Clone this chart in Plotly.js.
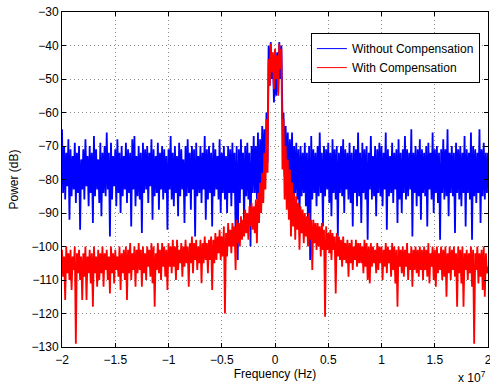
<!DOCTYPE html>
<html>
<head>
<meta charset="utf-8">
<script src="https://cdn.plot.ly/plotly-3.0.1.min.js"></script>
<style>html,body{margin:0;padding:0;background:#fff;}#chart{width:490px;height:385px;}</style>
</head>
<body>
<div id="chart"></div>
<script>
// Frequency bins: start and spacing (Hz)
const fStart = -2e7;
const fStep = 1e5;

// Power (dB) without compensation
const powerWithout = [
-65,-84,-70,-86,-72,-82,-68,-92,-71,-85,-73,-83,-69,-87,-72,-84,-70,-95,-74,-83,
-71,-86,-68,-82,-73,-88,-70,-84,-72,-93,-67,-85,-71,-83,-74,-87,-69,-91,-72,-84,
-70,-85,-66,-83,-72,-97,-69,-86,-73,-82,-71,-88,-68,-84,-72,-90,-70,-85,-73,-83,
-69,-87,-71,-84,-72,-94,-68,-83,-67,-88,-73,-85,-70,-86,-72,-96,-69,-84,-71,-83,
-70,-87,-72,-82,-68,-92,-71,-85,-73,-84,-69,-89,-72,-83,-70,-86,-71,-84,-73,-95,
-71,-83,-67,-86,-72,-88,-70,-84,-73,-91,-69,-85,-71,-83,-74,-93,-70,-85,-68,-84,
-72,-89,-70,-83,-71,-97,-69,-85,-73,-84,-70,-87,-72,-83,-67,-92,-71,-86,-70,-84,
-72,-94,-69,-85,-71,-83,-73,-86,-68,-90,-72,-84,-70,-86,-73,-90,-70,-84,-71,-88,
-69,-84,-72,-96,-70,-104,-71,-87,-68,-83,-72,-93,-70,-85,-69,-86,-72,-100,-70,-84,
-67,-84,-70,-86,-66,-88,-68,-82,-64,-80,-65,-78,-60,-75,-40,-52,-39,-50,-43,-57,
-44,-55,-42,-54,-39,-50,-40,-62,-60,-79,-64,-81,-66,-85,-68,-83,-66,-89,-70,-84,
-69,-86,-71,-92,-70,-85,-72,-84,-69,-88,-72,-95,-70,-104,-67,-86,-71,-84,-72,-88,
-70,-85,-66,-84,-72,-94,-70,-85,-71,-83,-69,-87,-72,-91,-68,-84,-71,-86,-70,-97,
-72,-84,-70,-85,-68,-90,-71,-83,-72,-86,-69,-87,-72,-94,-70,-84,-71,-88,-66,-85,
-72,-93,-69,-84,-71,-86,-70,-98,-72,-83,-67,-86,-73,-85,-70,-91,-71,-84,-69,-85,
-70,-88,-72,-83,-66,-95,-71,-85,-73,-84,-69,-87,-72,-83,-71,-93,-68,-86,-72,-90,
-71,-84,-67,-86,-71,-85,-72,-83,-65,-97,-72,-84,-70,-88,-71,-85,-68,-92,-71,-84,
-72,-85,-70,-94,-69,-83,-72,-86,-66,-90,-71,-84,-70,-87,-72,-98,-71,-84,-68,-86,
-71,-85,-65,-91,-72,-84,-70,-85,-72,-96,-69,-84,-71,-86,-70,-88,-72,-84,-67,-94,
-71,-84,-72,-86,-66,-98,-70,-85,-71,-87,-72,-84,-65,-93,-71,-85,-69,-86,-72,-84,
-72
];

// Power (dB) with compensation
const powerWith = [
-101,-109,-103,-116,-100,-108,-102,-110,-101,-113,-103,-107,-100,-129,-102,-108,-101,-110,-103,-116,
-102,-109,-100,-116,-103,-108,-101,-111,-102,-118,-100,-108,-103,-112,-101,-110,-102,-108,-100,-112,
-102,-107,-101,-110,-103,-114,-100,-108,-102,-111,-101,-107,-103,-109,-100,-113,-102,-108,-101,-110,
-100,-116,-101,-108,-99,-110,-102,-107,-100,-112,-101,-108,-99,-107,-101,-112,-100,-108,-102,-110,
-100,-106,-101,-109,-99,-111,-100,-118,-102,-107,-99,-108,-101,-110,-99,-106,-100,-109,-101,-113,
-99,-106,-100,-108,-98,-106,-100,-110,-98,-107,-101,-105,-99,-109,-100,-106,-98,-105,-100,-112,
-99,-105,-97,-108,-99,-104,-98,-107,-100,-105,-98,-111,-99,-105,-97,-104,-99,-108,-98,-104,
-97,-113,-98,-105,-96,-104,-97,-102,-95,-104,-97,-103,-94,-120,-96,-103,-93,-100,-95,-102,
-93,-100,-94,-107,-92,-99,-93,-100,-91,-98,-92,-97,-89,-96,-90,-98,-88,-94,-87,-95,
-88,-96,-86,-99,-84,-93,-81,-90,-78,-87,-72,-83,-62,-78,-44,-52,-39.5,-48,-42,-53,
-41,-50,-43,-55,-39.5,-47,-41,-77,-62,-86,-70,-89,-74,-92,-77,-97,-81,-94,-84,-98,
-85,-95,-87,-101,-88,-96,-89,-99,-90,-97,-91,-100,-90,-98,-92,-107,-92,-99,-93,-101,
-93,-100,-94,-103,-93,-101,-95,-121,-94,-101,-96,-102,-95,-104,-96,-101,-97,-114,-96,-103,
-97,-104,-98,-106,-97,-104,-99,-105,-98,-109,-99,-105,-98,-107,-100,-104,-98,-106,-99,-105,
-99,-105,-100,-108,-98,-106,-99,-110,-100,-111,-99,-106,-100,-105,-101,-108,-99,-107,-100,-105,
-100,-110,-101,-106,-99,-108,-100,-105,-101,-109,-99,-107,-100,-111,-101,-118,-100,-106,-101,-108,
-100,-109,-101,-106,-99,-110,-102,-107,-100,-112,-101,-107,-100,-108,-101,-109,-100,-107,-101,-110,
-100,-107,-101,-109,-99,-111,-102,-106,-100,-110,-101,-112,-100,-108,-102,-107,-100,-110,-101,-109,
-100,-115,-102,-108,-100,-110,-101,-107,-100,-109,-102,-118,-100,-108,-101,-111,-100,-118,-102,-107,
-101,-110,-102,-108,-100,-112,-101,-129,-102,-107,-100,-111,-102,-109,-101,-113,-100,-115,-102,-108,
-106
];

// Tick labels
const xTickVals = [-2e7,-1.5e7,-1e7,-0.5e7,0,0.5e7,1e7,1.5e7,2e7];
const xTickText = ['\u22122','\u22121.5','\u22121','\u22120.5','0','0.5','1','1.5','2'];
const seriesNames = ['Without Compensation','With Compensation'];
const seriesColors = ['#0000ff', '#ff0000'];

const freqHz = powerWithout.map((_, i) => fStart + i * fStep);

const FONT = 'Liberation Sans, Arial, Helvetica, sans-serif';

const traces = [
  {x: freqHz, y: powerWithout, type: 'scatter', mode: 'lines', name: seriesNames[0],
   legendgroup: 'a', showlegend: false, line: {color: seriesColors[0], width: 1.8}},
  {x: freqHz, y: powerWith, type: 'scatter', mode: 'lines', name: seriesNames[1],
   legendgroup: 'b', showlegend: false, line: {color: seriesColors[1], width: 1.8}},
  // legend keys (thin lines as in the reference legend)
  {x: [null], y: [null], type: 'scatter', mode: 'lines', name: seriesNames[0],
   legendgroup: 'a', showlegend: true, line: {color: seriesColors[0], width: 1}},
  {x: [null], y: [null], type: 'scatter', mode: 'lines', name: seriesNames[1],
   legendgroup: 'b', showlegend: true, line: {color: seriesColors[1], width: 1}}
];

const axisCommon = {
  showline: true, linecolor: '#000', linewidth: 1, mirror: 'ticks',
  ticks: 'inside', ticklen: 4, tickcolor: '#000', tickwidth: 1,
  showgrid: true, gridcolor: '#8c8c8c', gridwidth: 1, griddash: '1px,3px',
  zeroline: false, automargin: false, ticklabeloverflow: 'allow',
  tickfont: {family: FONT, size: 12, color: '#000'}
};

const layout = {
  width: 490, height: 385,
  margin: {l: 62, r: 2, t: 12, b: 38},
  paper_bgcolor: '#fff', plot_bgcolor: '#fff',
  showlegend: true,
  legend: {x: 0.981, xanchor: 'right', y: 0.937, yanchor: 'top',
    bgcolor: '#fff', bordercolor: '#000', borderwidth: 1, tracegroupgap: 0,
    font: {family: FONT, size: 12, color: '#000'}},
  xaxis: Object.assign({}, axisCommon, {
    range: [-2e7, 2e7], tickmode: 'array', tickvals: xTickVals, ticktext: xTickText,
    ticklabelstandoff: 2,
    title: {text: 'Frequency (Hz)', font: {family: FONT, size: 12, color: '#000'}, standoff: 2}
  }),
  yaxis: Object.assign({}, axisCommon, {
    range: [-130, -30], tickmode: 'linear', tick0: -130, dtick: 10,
    title: {text: 'Power (dB)', font: {family: FONT, size: 12, color: '#000'}, standoff: 10}
  }),
  annotations: [{
    xref: 'paper', yref: 'paper', x: 0.9965, xanchor: 'right', y: -0.089, yanchor: 'middle',
    text: 'x 10<sup>7</sup>', showarrow: false, borderpad: 0,
    font: {family: FONT, size: 12, color: '#000'}
  }]
};

Plotly.newPlot('chart', traces, layout, {staticPlot: true, displayModeBar: false});
</script>
</body>
</html>
